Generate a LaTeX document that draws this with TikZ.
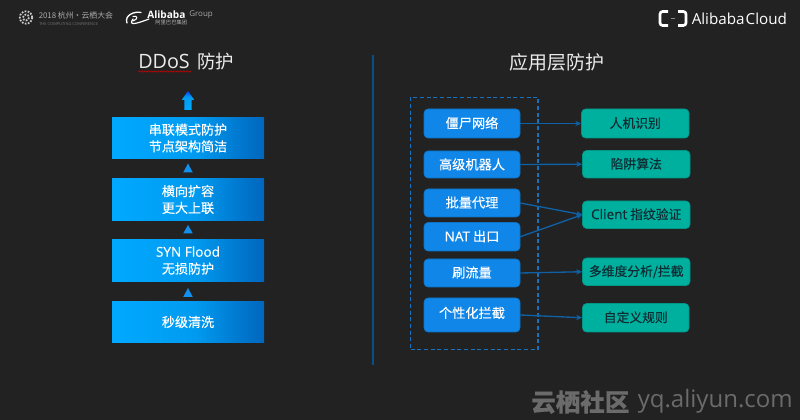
\documentclass[tikz,border=0pt]{standalone}
\usepackage{fontspec}
\setmainfont{Noto Sans CJK SC}[FakeBold=0.3]
\newfontfamily\latinfont{Open Sans}[FakeBold=0.3]
\newfontfamily\plainlatin{Open Sans}
\newfontfamily\plaincjk{Noto Sans CJK SC}
\usetikzlibrary{arrows.meta,decorations.pathmorphing,calc}
\definecolor{bgc}{HTML}{222222}
\definecolor{gradA}{HTML}{00A9FF}
\definecolor{gradB}{HTML}{009BF0}
\definecolor{gradC}{HTML}{0066BD}
\definecolor{blueb}{HTML}{0F86E8}
\definecolor{teal1}{HTML}{00B09E}
\definecolor{tealtx}{HTML}{0F2C33}
\definecolor{conn}{HTML}{0F60A4}
\definecolor{dashc}{HTML}{1672BE}
\definecolor{divc}{HTML}{0A4F86}
\definecolor{tri}{HTML}{1190EE}
\definecolor{wm}{HTML}{6B6B6B}
\pgfdeclarehorizontalshading{boxgrad}{100bp}{color(0bp)=(gradA); color(25bp)=(gradA); color(52bp)=(gradB); color(75bp)=(gradC); color(100bp)=(gradC)}
\pgfdeclareverticalshading{uparrowgrad}{100bp}{color(0bp)=(gradA); color(25bp)=(gradA); color(60bp)=(gradB); color(75bp)=(blue!75!cyan); color(100bp)=(blue!75!cyan)}
\tikzset{
  x=0.75pt,y=-0.75pt,
  gradbox/.style={shading=boxgrad,text=white,font=\fontsize{9.8pt}{12.6pt}\selectfont,align=center,inner sep=0pt},
  srcbox/.style={fill=blueb,draw=blueb!85!black,line width=.4pt,rounded corners=3pt,text=white,font=\fontsize{9.9pt}{12pt}\selectfont,align=center,inner sep=0pt},
  dstbox/.style={fill=teal1,draw=teal1!85!black,line width=.4pt,rounded corners=3pt,text=tealtx,font=\fontsize{9.6pt}{12pt}\selectfont,align=center,inner sep=0pt},
  link/.style={draw=conn,line width=1pt,-{Stealth[length=4.5pt,width=4pt]}},
  title/.style={text=white!92!black,font=\plaincjk\fontsize{13.8pt}{16pt}\selectfont,inner sep=0pt},
  tribox/.style={fill=tri},
}
\newcommand\pxbox[7]{% name, style, x1,y1,x2,y2, text
  \pgfmathsetmacro\pxw{(#5-#3)*0.75}\pgfmathsetmacro\pxh{(#6-#4)*0.75}
  \node[#2,minimum width=\pxw pt,minimum height=\pxh pt] (#1) at ({(#3+#5)/2},{(#4+#6)/2}) {#7};}
\begin{document}
\begin{tikzpicture}
\useasboundingbox (0,0) rectangle (800,420);
\fill[bgc] (0,0) rectangle (800,420);

% top-left conference logo
\draw[white!80!black,line width=1.3pt,densely dotted] (26,17.5) circle (6.2);
\draw[white!80!black,line width=1.3pt,densely dotted] (26,17.5) circle (3);
\node[anchor=west,inner sep=0pt,text=white!68!black,font=\plaincjk\fontsize{5.9pt}{6pt}\selectfont] (conf) at (38.5,16) {2018 杭州·云栖大会};
\node[anchor=west,inner sep=0pt,text=white!45!black,font=\plainlatin\fontsize{3pt}{3pt}\selectfont] (confen) at (39,23.7) {THE COMPUTING CONFERENCE};
% Alibaba Group logo
\draw[white,line width=1pt,line cap=round] (127,23) .. controls (124,15) and (135,11) .. (141,12.5);
\draw[white,line width=.9pt,line cap=round] (133,19) .. controls (128,26) and (136,24) .. (149,19);
\draw[white,line width=.8pt,line cap=round] (133,16.5) .. controls (137,15) and (139,19) .. (133,21);
\node[anchor=west,inner sep=0pt,text=white,font=\plainlatin\bfseries\fontsize{7.6pt}{8pt}\selectfont] (ali) at (147,15) {Alibaba};
\node[anchor=west,inner sep=0pt,text=white!65!black,font=\plainlatin\fontsize{6pt}{7pt}\selectfont] (grp) at (189,15) {Group};
\node[anchor=west,inner sep=0pt,text=white!70!black,font=\plaincjk\fontsize{4pt}{4pt}\selectfont] (alicn) at (155,22) {阿里巴巴集团};
% Alibaba Cloud logo
\draw[white,line width=2pt,rounded corners=2pt] (668,11.5) -- (660,11.5) -- (660,25.5) -- (668,25.5);
\draw[white,line width=2pt,rounded corners=2pt] (678,11.5) -- (686,11.5) -- (686,25.5) -- (678,25.5);
\draw[white!55!black,line width=.7pt] (671,18.5) -- (675,18.5);
\node[anchor=west,inner sep=0pt,text=white,font=\plainlatin\fontsize{11.4pt}{12pt}\selectfont] (cloud) at (691.5,19) {Alibaba\kern.8pt Cloud};

% titles
\node[title,anchor=west] (t1) at (138,62) {{\plainlatin\fontsize{14.8pt}{16pt}\selectfont DDoS}\kern2.5pt\ 防护};
\draw[red!80!black,line width=.45pt,decorate,decoration={snake,amplitude=.5pt,segment length=2.4pt}] (138,71.5) -- (191,71.5);
\node[title,font=\plaincjk\fontsize{14.2pt}{16pt}\selectfont] (t2) at (557,62.5) {应用层防护};

% divider
\draw[divc,line width=.9pt] (373,55) -- (373,365);

% left stack
\pxbox{b1}{gradbox}{112}{117.5}{264}{158.5}{串联模式防护\\节点架构简洁}
\pxbox{b2}{gradbox}{112}{178.5}{264}{220.5}{横向扩容\\更大上联}
\pxbox{b3}{gradbox}{112}{239.5}{264}{281.5}{{\latinfont\fontsize{10.2pt}{12.6pt}\selectfont SYN Flood}\\无损防护}
\pxbox{b4}{gradbox}{112}{301.5}{264}{342.5}{秒级清洗}
\shade[shading=uparrowgrad] (187.9,91) -- (194.3,100) -- (191.7,100) -- (191.7,110) -- (184.3,110) -- (184.3,100) -- (181.7,100) -- cycle;
\fill[tribox] (188,163.5) -- (192.8,172.5) -- (183.2,172.5) -- cycle;
\fill[tribox] (188,225) -- (192.8,233.5) -- (183.2,233.5) -- cycle;
\fill[tribox] (188,288) -- (192.8,297) -- (183.2,297) -- cycle;

% dashed frame
\node[draw=dashc,line width=1pt,dash pattern=on 3pt off 2pt,minimum width=95.5pt,minimum height=189pt,inner sep=0pt] (frame) at (474.3,223.3) {};

% sources
\pxbox{s1}{srcbox}{424}{109}{520}{138}{\raisebox{1.5pt}{僵尸网络}}
\pxbox{s2}{srcbox}{424}{151}{520}{178}{\raisebox{1pt}{高级机器人}}
\pxbox{s3}{srcbox}{424}{189}{520}{217}{\raisebox{1.5pt}{批量代理}}
\pxbox{s4}{srcbox}{424}{222.5}{520}{251}{\raisebox{1.5pt}{{\latinfont\fontsize{10.2pt}{12pt}\selectfont NAT} 出口}}
\pxbox{s5}{srcbox}{424}{259}{520}{287}{\raisebox{1.5pt}{刷流量}}
\pxbox{s6}{srcbox}{424}{298}{520}{332}{\raisebox{4pt}{个性化拦截}}

% targets
\pxbox{d1}{dstbox}{581.5}{109}{689}{138}{\raisebox{1.5pt}{人机识别}}
\pxbox{d2}{dstbox}{582.5}{150.5}{690}{178}{\raisebox{1.5pt}{陷阱算法}}
\pxbox{d3}{dstbox}{582.5}{201}{690}{228.5}{\raisebox{1.5pt}{{\latinfont\fontsize{10.2pt}{12pt}\selectfont Client} 指纹验证}}
\pxbox{d4}{dstbox}{582.5}{258}{690}{285.5}{\raisebox{1.5pt}{多维度分析/拦截}}
\pxbox{d5}{dstbox}{582.5}{303.5}{689}{332}{\raisebox{1.5pt}{自定义规则}}

% connectors
\draw[link] (s1.east) -- (d1.west);
\draw[link] (s2.east) -- (d2.west);
\draw[link] (s3.east) -- (d3.west);
\draw[link] (s4.east) -- (d3.west);
\draw[link] (s5.east) -- (d4.west);
\draw[link] (s6.east) -- (d5.west);

% watermark
\node[anchor=west,inner sep=0pt,text=wm,font=\bfseries\fontsize{18.4pt}{20pt}\selectfont] (wm1) at (531,402) {云栖社区};
\node[anchor=west,inner sep=0pt,text=wm,font=\plainlatin\fontsize{18pt}{20pt}\selectfont] (wm2) at (637.5,401) {yq.aliyun.com};
\end{tikzpicture}
\end{document}
